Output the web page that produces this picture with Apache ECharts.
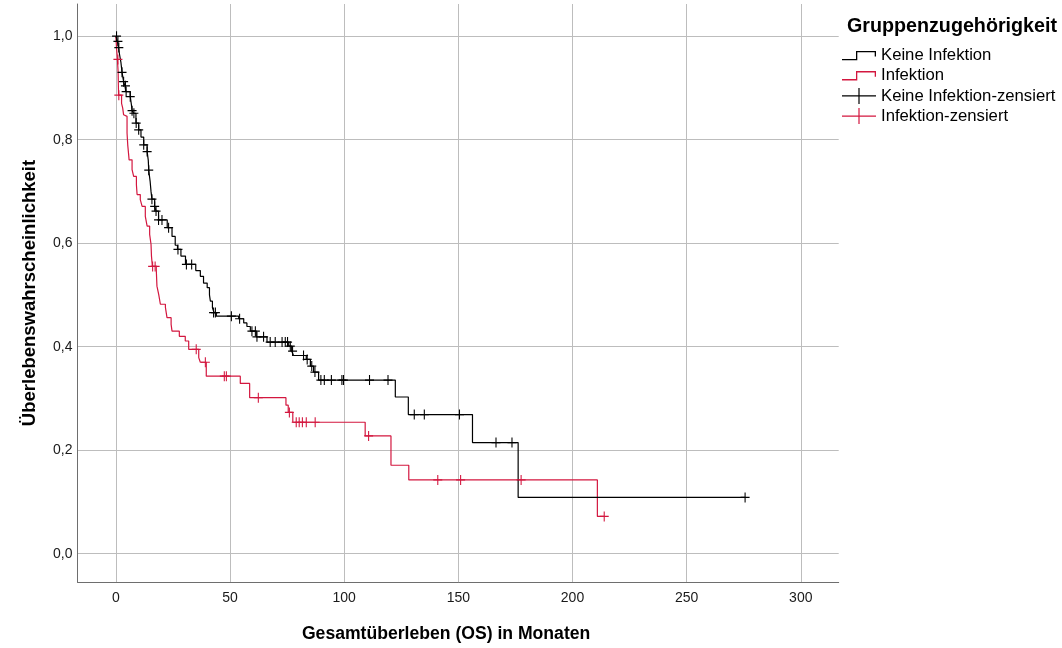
<!DOCTYPE html>
<html>
<head>
<meta charset="utf-8">
<script src="https://cdn.jsdelivr.net/npm/echarts@6/dist/echarts.min.js"></script>
<style>
  html, body { margin: 0; padding: 0; background: #fff; }
  #chart { width: 1062px; height: 648px; }
</style>
</head>
<body>
<div id="chart"></div>
<script>
// Kaplan-Meier estimates: time of each drop (months) and survival after the drop
const noInfTime = [0, 0.7, 1.2, 1.6, 2.2, 2.7, 3.4, 4.0, 4.4, 6.3, 6.8, 7.1, 7.8, 8.8, 10.0, 11.0, 12.2, 13.7, 14.2, 14.4, 15.0, 15.4, 15.8, 17.0, 17.6, 18.7, 22.5, 24.6, 26.0, 27.0, 28.5, 30.5, 35.0, 37.0, 38.4, 40.0, 41.0, 41.4, 42.3, 43.0, 44.0, 53.8, 56.0, 57.4, 58.9, 61.5, 66.2, 75.7, 77.0, 77.8, 83.4, 85.2, 86.6, 88.8, 122.4, 128.1, 156.2, 176.2, 275.6];
const noInfSurv = [1.0, 0.99, 0.978, 0.965, 0.95, 0.93, 0.912, 0.904, 0.893, 0.883, 0.868, 0.856, 0.851, 0.832, 0.819, 0.805, 0.79, 0.777, 0.76, 0.741, 0.72, 0.70, 0.685, 0.671, 0.662, 0.645, 0.63, 0.613, 0.596, 0.588, 0.575, 0.559, 0.547, 0.536, 0.523, 0.514, 0.50, 0.488, 0.475, 0.466, 0.459, 0.454, 0.446, 0.439, 0.430, 0.419, 0.409, 0.401, 0.3915, 0.383, 0.3755, 0.3626, 0.351, 0.3356, 0.3028, 0.2689, 0.2148, 0.1088, 0.1088];

const infTime = [0, 0.3, 0.7, 1.0, 1.1, 1.2, 2.5, 3.0, 3.4, 3.6, 4.9, 5.2, 5.6, 5.8, 7.1, 7.8, 9.0, 9.3, 10.7, 11.5, 12.9, 13.7, 14.8, 15.4, 15.6, 16.0, 17.7, 18.0, 18.8, 19.5, 21.7, 22.4, 24.2, 24.6, 27.8, 30.4, 31.9, 36.3, 37.0, 39.6, 54.5, 58.6, 74.5, 75.5, 77.5, 109.2, 120.5, 128.3, 210.9, 213.9];
const infSurv = [1.0, 0.977, 0.955, 0.93, 0.905, 0.886, 0.87, 0.861, 0.848, 0.845, 0.813, 0.79, 0.771, 0.761, 0.742, 0.729, 0.713, 0.694, 0.684, 0.671, 0.652, 0.633, 0.617, 0.598, 0.575, 0.555, 0.549, 0.517, 0.50, 0.482, 0.476, 0.456, 0.443, 0.43, 0.42, 0.411, 0.395, 0.379, 0.37, 0.343, 0.329, 0.3016, 0.287, 0.273, 0.254, 0.2276, 0.171, 0.1427, 0.0721, 0.0721];

// Censored observations (time, survival level at that time)
const noInfCensTime = [0.3, 0.9, 1.3, 2.7, 3.4, 4.2, 4.5, 6.3, 7.1, 7.9, 8.9, 10.0, 12.2, 13.7, 14.4, 15.8, 17.0, 17.6, 18.7, 20.2, 23.1, 27.2, 30.9, 33.2, 42.8, 43.6, 50.6, 54.2, 59.6, 61.1, 61.8, 64.7, 67.6, 69.8, 72.8, 74.2, 75.2, 76.4, 77.4, 82.2, 83.8, 85.8, 87.2, 89.8, 91.3, 94.4, 99.0, 99.7, 111.1, 119.2, 130.7, 135.1, 150.5, 166.5, 173.5, 275.6];
const noInfCensSurv = [1.0, 0.99, 0.978, 0.93, 0.912, 0.904, 0.893, 0.883, 0.856, 0.851, 0.832, 0.819, 0.79, 0.777, 0.741, 0.685, 0.671, 0.662, 0.645, 0.645, 0.63, 0.588, 0.559, 0.559, 0.466, 0.466, 0.459, 0.454, 0.430, 0.430, 0.419, 0.419, 0.409, 0.409, 0.409, 0.409, 0.409, 0.401, 0.3915, 0.383, 0.3755, 0.3626, 0.351, 0.3356, 0.3356, 0.3356, 0.3356, 0.3356, 0.3356, 0.3356, 0.2689, 0.2689, 0.2689, 0.2148, 0.2148, 0.1088];

const infCensTime = [0.9, 1.3, 16.1, 17.2, 35.2, 39.2, 47.5, 48.4, 62.4, 76.0, 79.0, 80.3, 81.7, 83.4, 87.3, 110.7, 141.0, 151.0, 177.5, 213.9];
const infCensSurv = [0.955, 0.886, 0.555, 0.555, 0.395, 0.37, 0.343, 0.343, 0.3016, 0.273, 0.254, 0.254, 0.254, 0.254, 0.254, 0.2276, 0.1427, 0.1427, 0.1427, 0.0721];

// Axis ticks
const xTicks = [0, 50, 100, 150, 200, 250, 300];
const yTicks = [0, 0.2, 0.4, 0.6, 0.8, 1.0];

const seriesNames = ['Keine Infektion', 'Infektion', 'Keine Infektion-zensiert', 'Infektion-zensiert'];
const groupTitle = 'Gruppenzugehörigkeit';
const xTitle = 'Gesamtüberleben (OS) in Monaten';
const yTitle = 'Überlebenswahrscheinlichkeit';

const BLACK = '#000000';
const RED = '#d3173f';
const FONT = "'Liberation Sans', Arial, Helvetica, sans-serif";

const zip = (a, b) => a.map((v, i) => [v, b[i]]);

// plus-shaped censor mark and legend glyphs
const censorMark = 'path://M0,4.4H10V5.6H0Z M4.4,0H5.6V10H4.4Z';
const stepIcon = 'path://M0,0 M34,16 M0,11.4H14V3.4H34V9H32.7V4.7H15.3V12.7H0Z';
const plusIcon = 'path://M0,7.4H34V8.6H0Z M16.4,0H17.6V16H16.4Z';

const chart = echarts.init(document.getElementById('chart'), null, { renderer: 'canvas' });

const option = {
  animation: false,
  backgroundColor: '#ffffff',
  textStyle: { fontFamily: FONT },
  title: {
    text: groupTitle,
    left: 847,
    top: 17,
    padding: 0,
    textStyle: { fontSize: 19.7, fontWeight: 'bold', color: '#000', fontFamily: FONT }
  },
  legend: {
    orient: 'vertical',
    left: 842,
    top: 47,
    padding: 0,
    itemWidth: 34,
    itemHeight: 16,
    itemGap: 3.2,
    selectedMode: false,
    itemStyle: { borderWidth: 0 },
    textStyle: { fontSize: 16.7, color: '#000', fontFamily: FONT },
    data: [
      { name: seriesNames[0], icon: stepIcon },
      { name: seriesNames[1], icon: stepIcon },
      { name: seriesNames[2], icon: plusIcon },
      { name: seriesNames[3], icon: plusIcon }
    ]
  },
  grid: { left: 77.5, right: 223.3, top: 4, bottom: 65 },
  xAxis: {
    type: 'value',
    min: -16.8,
    max: 316.6,
    name: xTitle,
    nameLocation: 'middle',
    nameGap: 43,
    nameTextStyle: { fontSize: 17.6, fontWeight: 'bold', color: '#000', padding: [0, 24, 0, 0], fontFamily: FONT },
    axisLine: { show: true, onZero: false, lineStyle: { color: '#6e6e6e', width: 1 } },
    axisTick: { show: false, customValues: xTicks },
    axisLabel: { customValues: xTicks, fontSize: 14, color: '#1a1a1a', margin: 9, fontFamily: FONT },
    splitLine: { show: true, lineStyle: { color: '#bdbdbd', width: 1 } }
  },
  yAxis: {
    type: 'value',
    min: -0.0546,
    max: 1.0621,
    name: yTitle,
    nameLocation: 'middle',
    nameGap: 38,
    nameTextStyle: { fontSize: 18.5, fontWeight: 'bold', color: '#000', fontFamily: FONT },
    axisLine: { show: true, onZero: false, lineStyle: { color: '#6e6e6e', width: 1 } },
    axisTick: { show: false, customValues: yTicks },
    axisLabel: {
      customValues: yTicks,
      fontSize: 14,
      color: '#1a1a1a',
      margin: 5,
      fontFamily: FONT,
      formatter: v => v.toFixed(1).replace('.', ',')
    },
    splitLine: { show: true, lineStyle: { color: '#bdbdbd', width: 1 } }
  },
  series: [
    {
      name: seriesNames[0],
      type: 'line',
      step: 'end',
      symbol: 'none',
      data: zip(noInfTime, noInfSurv),
      color: BLACK,
      lineStyle: { color: BLACK, width: 1.2 },
      itemStyle: { color: BLACK },
      z: 3
    },
    {
      name: seriesNames[1],
      type: 'line',
      step: 'end',
      symbol: 'none',
      data: zip(infTime, infSurv),
      color: RED,
      lineStyle: { color: RED, width: 1.2 },
      itemStyle: { color: RED },
      z: 2
    },
    {
      name: seriesNames[2],
      type: 'scatter',
      symbol: censorMark,
      symbolSize: [9, 10],
      data: zip(noInfCensTime, noInfCensSurv),
      itemStyle: { color: BLACK, opacity: 1 },
      color: BLACK,
      z: 4
    },
    {
      name: seriesNames[3],
      type: 'scatter',
      symbol: censorMark,
      symbolSize: [9, 10],
      data: zip(infCensTime, infCensSurv),
      itemStyle: { color: RED, opacity: 1 },
      color: RED,
      z: 4
    }
  ]
};

chart.setOption(option);
</script>
</body>
</html>
